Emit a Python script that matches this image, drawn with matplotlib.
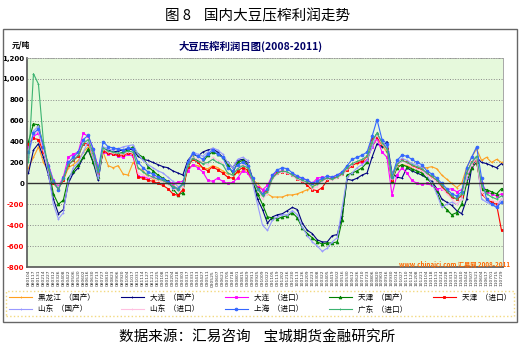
import numpy as np
import pandas as pd
import matplotlib
matplotlib.use('Agg')
import matplotlib.pyplot as plt
from matplotlib.patches import Rectangle

plt.rcParams['font.family'] = ['Noto Sans CJK SC', 'DejaVu Sans']

# x axis: one point per label (roughly every 2 weeks, 2008-01 .. 2011-07)
n_pts = 96
date_labels = [d.strftime('%y%m%d') for d in
               pd.date_range('2008-01-04', '2011-07-29', periods=n_pts)]

heilongjiang = [150, 250, 350, 200, 120, 20, -40, 30, 150, 180, 220, 300, 350, 250, 100, 300,
                170, 150, 170, 90, 80, 200, 150, 120, 60, 40, 30, 20, -10, -20, -50, 0,
                130, 180, 170, 150, 140, 170, 150, 120, 90, 80, 100, 120, 120, 30, 0, -60,
                -100, -130, -130, -130, -110, -110, -100, -80, -60, -40, 10, 40, 50, 40, 60, 90,
                150, 180, 190, 200, 230, 350, 430, 360, 300, 100, 150, 180, 170, 150, 160, 150,
                150, 160, 140, 80, 40, 0, -40, 0, 150, 250, 330, 220, 250, 200, 230, 200]
dalian_dom = [100, 320, 380, 250, 80, -150, -290, -250, 0, 100, 150, 250, 320, 200, 30, 330,
              320, 300, 310, 320, 330, 320, 260, 230, 220, 200, 180, 160, 150, 120, 100, 80,
              220, 280, 260, 300, 320, 330, 300, 250, 200, 150, 220, 230, 200, 50, -150, -250,
              -380, -320, -300, -290, -260, -230, -250, -380, -450, -480, -540, -560, -560, -500, -490, -310,
              40, 30, 50, 80, 100, 250, 380, 350, 400, 100, 60, 50, 150, 120, 100, 80,
              50, 20, -50, -150, -180, -210, -260, -290, -150, 150, 250, 200, 190, 170, 150, 190]
dalian_imp = [350, 450, 480, 330, 180, 30, -30, 60, 250, 280, 300, 480, 450, 330, 150, 300,
              280, 280, 260, 250, 280, 260, 70, 60, 50, 60, 40, 30, 20, 0, 10, 20,
              120, 180, 150, 110, 30, 20, 50, 20, 0, 10, 50, 120, 100, 20, -30, -60,
              -20, 80, 110, 120, 100, 80, 60, 50, 30, 0, 50, 60, 40, 60, 80, 100,
              150, 180, 200, 200, 220, 350, 430, 300, 250, -110, 80, 150, 100, 30, 0, -10,
              0, -20, -50, -50, -60, -50, -80, -60, 50, 150, 200, 0, -80, -100, -120, -100]
tianjin_dom = [400, 570, 560, 350, 150, -100, -200, -160, 50, 120, 180, 250, 330, 200, 60, 320,
               300, 290, 280, 300, 320, 350, 280, 250, 160, 120, 80, 50, 20, -50, -110, -90,
               180, 250, 220, 200, 270, 300, 280, 250, 180, 100, 200, 220, 180, 30, -100, -200,
               -320, -330, -340, -320, -310, -280, -330, -430, -480, -520, -560, -580, -570, -570, -560, -350,
               80, 100, 120, 150, 200, 400, 480, 380, 320, 20, 150, 180, 160, 140, 120, 100,
               50, 0, -80, -200, -250, -300, -280, -200, 0, 150, 200, -50, -60, -80, -100, -50]
tianjin_imp = [380, 430, 420, 300, 150, 0, -50, 30, 180, 220, 260, 380, 380, 280, 100, 310,
               290, 280, 270, 270, 290, 280, 60, 50, 30, 20, 0, -20, -50, -100, -115, -60,
               160, 230, 200, 150, 120, 160, 130, 100, 60, 50, 120, 150, 130, 30, -40, -100,
               -60, 60, 100, 110, 100, 80, 40, 20, -20, -60, -70, -40, 30, 50, 60, 90,
               130, 170, 200, 210, 260, 430, 440, 380, 330, 30, 180, 220, 200, 170, 150, 130,
               100, 60, 30, -30, -80, -130, -150, -120, 100, 200, 220, -100, -150, -180, -200, -450]
shandong_dom = [250, 500, 550, 330, 100, -200, -340, -280, 20, 150, 200, 300, 400, 250, 50, 350,
                330, 320, 330, 350, 360, 370, 280, 220, 180, 150, 120, 100, 60, 20, -30, -20,
                200, 300, 280, 260, 300, 340, 320, 280, 200, 150, 230, 250, 220, 0, -200, -400,
                -450, -350, -320, -300, -300, -260, -300, -420, -500, -560, -600, -650, -620, -560, -520, -230,
                60, 100, 150, 180, 220, 350, 480, 400, 350, 80, 200, 240, 220, 190, 180, 150,
                80, 0, -100, -230, -200, -180, -200, -150, 50, 200, 260, -150, -180, -200, -220, -150]
shandong_imp = [320, 470, 500, 320, 160, 20, -40, 40, 200, 240, 280, 400, 420, 300, 120, 330,
                300, 290, 290, 280, 300, 290, 100, 80, 60, 50, 30, 20, -10, -50, -70, -30,
                180, 250, 230, 200, 180, 250, 220, 200, 100, 80, 150, 180, 160, 30, -60, -150,
                -100, 40, 90, 110, 100, 70, 40, 20, 0, -50, -30, 20, 40, 30, 50, 80,
                140, 180, 210, 230, 260, 400, 460, 380, 320, 40, 170, 210, 190, 160, 140, 120,
                80, 50, 10, -50, -100, -150, -200, -150, 80, 180, 240, -80, -150, -160, -180, -150]
shanghai_imp = [300, 480, 520, 350, 170, 20, -60, 50, 200, 250, 300, 420, 460, 330, 130, 400,
                350, 340, 330, 320, 340, 330, 200, 150, 110, 90, 60, 40, 10, -30, -50, 0,
                200, 290, 260, 230, 280, 320, 280, 250, 150, 120, 180, 200, 170, 50, -50, -100,
                -50, 80, 130, 150, 140, 100, 70, 50, 30, 0, 20, 50, 70, 60, 80, 110,
                170, 230, 250, 270, 300, 450, 610, 420, 380, 60, 220, 270, 260, 230, 200, 180,
                120, 90, 50, 0, -50, -100, -120, -80, 150, 250, 350, 50, -150, -200, -230, -180]
guangdong_imp = [200, 1050, 950, 400, 150, 10, -50, 40, 180, 220, 270, 380, 420, 290, 110, 340,
                 310, 300, 290, 290, 310, 300, 150, 110, 80, 60, 40, 30, 0, -30, -60, -10,
                 170, 240, 210, 190, 200, 230, 200, 180, 100, 80, 140, 170, 150, 30, -50, -120,
                 -80, 50, 100, 120, 110, 80, 50, 30, 10, -30, -10, 30, 50, 40, 60, 90,
                 150, 190, 210, 230, 260, 400, 480, 390, 330, 50, 180, 220, 200, 180, 160, 140,
                 100, 70, 30, -20, -70, -120, -150, -100, 100, 200, 260, -20, -100, -130, -150, -120]

series = [
    ('黑龙江  （国产）', heilongjiang, '#ffa020', '+'),
    ('大连  （国产）', dalian_dom, '#000080', '+'),
    ('大连  （进口）', dalian_imp, '#ff00ff', 's'),
    ('天津  （国产）', tianjin_dom, '#008000', '^'),
    ('天津  （进口）', tianjin_imp, '#ff0000', 's'),
    ('山东  （国产）', shandong_dom, '#9999ff', '+'),
    ('山东  （进口）', shandong_imp, '#ffc0e0', '+'),
    ('上海  （进口）', shanghai_imp, '#3366ff', 'o'),
    ('广东  （进口）', guangdong_imp, '#3cb371', '+'),
]

W, H = 523, 352
fig = plt.figure(figsize=(W / 100, H / 100), dpi=100)
fig.patch.set_facecolor('white')

fig.text(258 / W, 1 - 16 / H, '图 8    国内大豆压榨利润走势', ha='center', va='center', fontsize=10.5)
fig.text(257 / W, 1 - 337 / H, '数据来源：汇易咨询    宝城期货金融研究所', ha='center', va='center', fontsize=10.5)
fig.patches.append(Rectangle((3 / W, 1 - 322 / H), 514 / W, 293 / H, transform=fig.transFigure,
                             fill=False, ec='#666666', lw=1))

fig.text(12 / W, 1 - 45 / H, '元/吨', fontsize=5.5, fontweight='bold', va='center')
fig.text(251 / W, 1 - 46 / H, '大豆压榨利润日图(2008-2011)', ha='center', va='center',
         fontsize=7.5, fontweight='bold', color='#000066')

ax = fig.add_axes([27 / W, 1 - 267 / H, 476 / W, 209 / H])
ax.set_facecolor('#e6f9dc')
x = np.arange(n_pts)
handles = {}
for name, vals, col, mk in series:
    h, = ax.plot(x, vals, color=col, lw=0.8, marker=mk, ms=2, mew=0.6, label=name)
    handles[name] = h

ax.axhline(0, color='#333333', lw=1)
ax.set_ylim(-800, 1200)
ax.set_xlim(-0.3, n_pts - 0.7)
ax.set_yticks(np.arange(-800, 1201, 200))
ax.set_yticklabels(['{:,}'.format(v) for v in range(-800, 1201, 200)],
                   fontsize=5, fontweight='bold', family='DejaVu Sans')
for lbl, v in zip(ax.get_yticklabels(), range(-800, 1201, 200)):
    lbl.set_color('red' if v < 0 else 'black')
ax.yaxis.grid(True, ls=':', color='#888888', lw=0.7)
ax.set_xticks(x)
ax.set_xticklabels(date_labels, rotation=90, fontsize=3.2, family='DejaVu Sans', color='#333333')
ax.tick_params(length=0, pad=2)
for s in ['left', 'bottom']:
    ax.spines[s].set_color('#555555')
    ax.spines[s].set_linewidth(1.2)
for s in ['top', 'right']:
    ax.spines[s].set_color('#999999')
    ax.spines[s].set_linewidth(0.6)
ax.spines['top'].set_linestyle(':')

fig.text(455 / W, 1 - 264 / H, 'www.chinajci.com 汇易网 2008-2011', ha='center', va='center',
         fontsize=4.5, color='#ff6600', fontweight='bold')

order = ['黑龙江  （国产）', '山东  （国产）', '大连  （国产）', '山东  （进口）', '大连  （进口）',
         '上海  （进口）', '天津  （国产）', '广东  （进口）', '天津  （进口）']
leg = fig.legend([handles[k] for k in order], order, ncol=5, mode='expand',
                 bbox_to_anchor=(6 / W, 1 - 320 / H, 508 / W, 33 / H), loc='center',
                 fontsize=5.5, frameon=True, fancybox=False, handlelength=3,
                 borderaxespad=0, labelspacing=0.5)
leg.get_frame().set_edgecolor('#f0d060')
leg.get_frame().set_linestyle(':')
leg.get_frame().set_linewidth(1)

fig.savefig('out.png', dpi=100)
